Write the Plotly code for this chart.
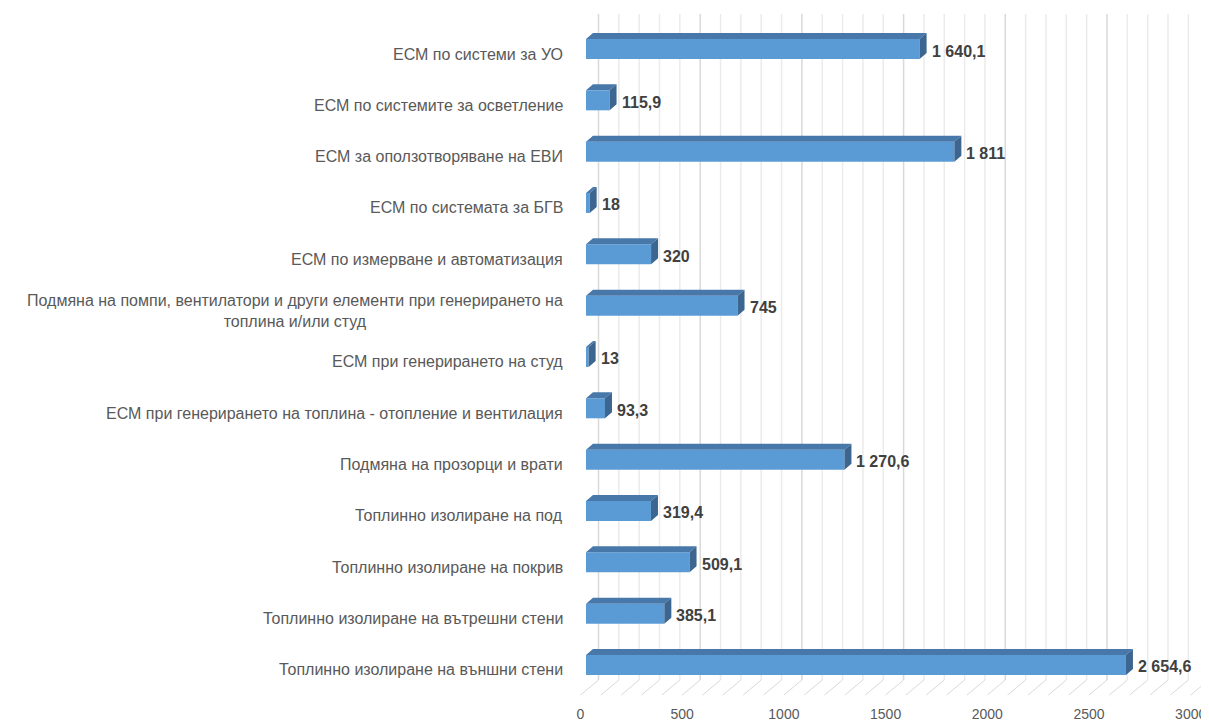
import plotly.graph_objects as go

categories = [
    "ЕСМ по системи за УО",
    "ЕСМ по системите за осветление",
    "ЕСМ за оползотворяване на ЕВИ",
    "ЕСМ по системата за БГВ",
    "ЕСМ по измерване и автоматизация",
    "Подмяна на помпи, вентилатори и други елементи при генерирането на<br>топлина и/или студ",
    "ЕСМ при генерирането на студ",
    "ЕСМ при генерирането на топлина - отопление и вентилация",
    "Подмяна на прозорци и врати",
    "Топлинно изолиране на под",
    "Топлинно изолиране на покрив",
    "Топлинно изолиране на вътрешни стени",
    "Топлинно изолиране на външни стени",
]
values = [1640.1, 115.9, 1811, 18, 320, 745, 13, 93.3, 1270.6, 319.4, 509.1, 385.1, 2654.6]
x_ticks = [0, 500, 1000, 1500, 2000, 2500, 3000]

# page body has an 8px margin; lay the figure out so it lands where the reference is
PAGE = 8
W, H = 1209 - PAGE, 722 - PAGE
KX = 0.2034          # px per data unit
KY = 51.33           # px per category
X0PX = 586 - PAGE    # px of value 0 on bar front plane
Y0PX = 49 - PAGE     # px of first category centre
L = 574 - PAGE
R = 1
T = 10 - PAGE
B = H - (700 - PAGE)
xa = -(X0PX - L) / KX
xb = xa + (W - L - R) / KX
ya = -(Y0PX - T) / KY
yb = ya + (H - T - B) / KY

def ux(px):
    return px / KX

def uy(px):
    return px / KY

bar_h = uy(20)
dx, dy = ux(7), uy(6)
idx = list(range(len(categories)))

def fmt(v):
    if float(v).is_integer():
        s = f"{int(v):,}".replace(",", " ")
    else:
        s = f"{v:,.1f}".replace(",", " ").replace(".", ",")
    return s

fig = go.Figure()

fig.add_trace(go.Bar(
    y=idx, x=values, orientation="h", width=bar_h,
    marker=dict(color="#5B9BD5", line=dict(width=0)),
    hoverinfo="skip",
))

tx, ty, sx, sy = [], [], [], []
for i, v in zip(idx, values):
    top = i - bar_h / 2
    bot = i + bar_h / 2
    tx += [0, v, v + dx, dx, 0, None]
    ty += [top, top, top - dy, top - dy, top, None]
    sx += [v, v, v + dx, v + dx, v, None]
    sy += [top, bot, bot - dy, top - dy, top, None]
fig.add_trace(go.Scatter(x=tx, y=ty, fill="toself", fillcolor="#4878AA",
                         mode="lines", line=dict(width=0, color="#4878AA"), hoverinfo="skip"))
fig.add_trace(go.Scatter(x=sx, y=sy, fill="toself", fillcolor="#3C6690",
                         mode="lines", line=dict(width=0, color="#3C6690"), hoverinfo="skip"))

back_off = ux(12.5)
front_off = ux(-5.5)
y_floor_back = uy(680 - 49)
y_floor_front = uy(695 - 49)
y_top = uy(14 - 49)
shapes = []
for g in range(0, 3001, 100):
    col = "#D9D9D9" if g % 500 == 0 else "#EBEBEB"
    shapes.append(dict(type="line", xref="x", yref="y", layer="below",
                       x0=g + back_off, x1=g + back_off, y0=y_top, y1=y_floor_back,
                       line=dict(color=col, width=1.5)))
    shapes.append(dict(type="line", xref="x", yref="y", layer="below",
                       x0=g + back_off, x1=g + front_off, y0=y_floor_back, y1=y_floor_front,
                       line=dict(color="#D9D9D9", width=1)))

annotations = []
for i, c in zip(idx, categories):
    annotations.append(dict(xref="paper", yref="y", x=0, y=i + uy(5), xanchor="right",
                            yanchor="middle", xshift=-(574 - 565), text=c, showarrow=False,
                            align="center",
                            font=dict(family="Liberation Sans", size=16, color="#595959")))
for i, v in zip(idx, values):
    annotations.append(dict(xref="x", yref="y", x=v + dx, y=i + uy(2), xanchor="left",
                            yanchor="middle", xshift=3, text="<b>" + fmt(v) + "</b>",
                            showarrow=False,
                            font=dict(family="Liberation Sans", size=16, color="#404040")))

fig.update_layout(
    width=W, height=H,
    margin=dict(l=L, r=R, t=T, b=B),
    paper_bgcolor="white", plot_bgcolor="white",
    showlegend=False,
    shapes=shapes,
    annotations=annotations,
    xaxis=dict(range=[xa, xb], tickvals=[t + front_off for t in x_ticks],
               ticktext=[str(t) for t in x_ticks], showgrid=False, zeroline=False,
               showline=False, ticks="outside", ticklen=1, tickcolor="rgba(0,0,0,0)",
               automargin=False, ticklabeloverflow="allow",
               tickfont=dict(family="Liberation Sans", size=14, color="#595959")),
    yaxis=dict(range=[yb, ya], showticklabels=False, showgrid=False, zeroline=False,
               showline=False, ticks="", automargin=False),
)

fig.write_html("out.html")
